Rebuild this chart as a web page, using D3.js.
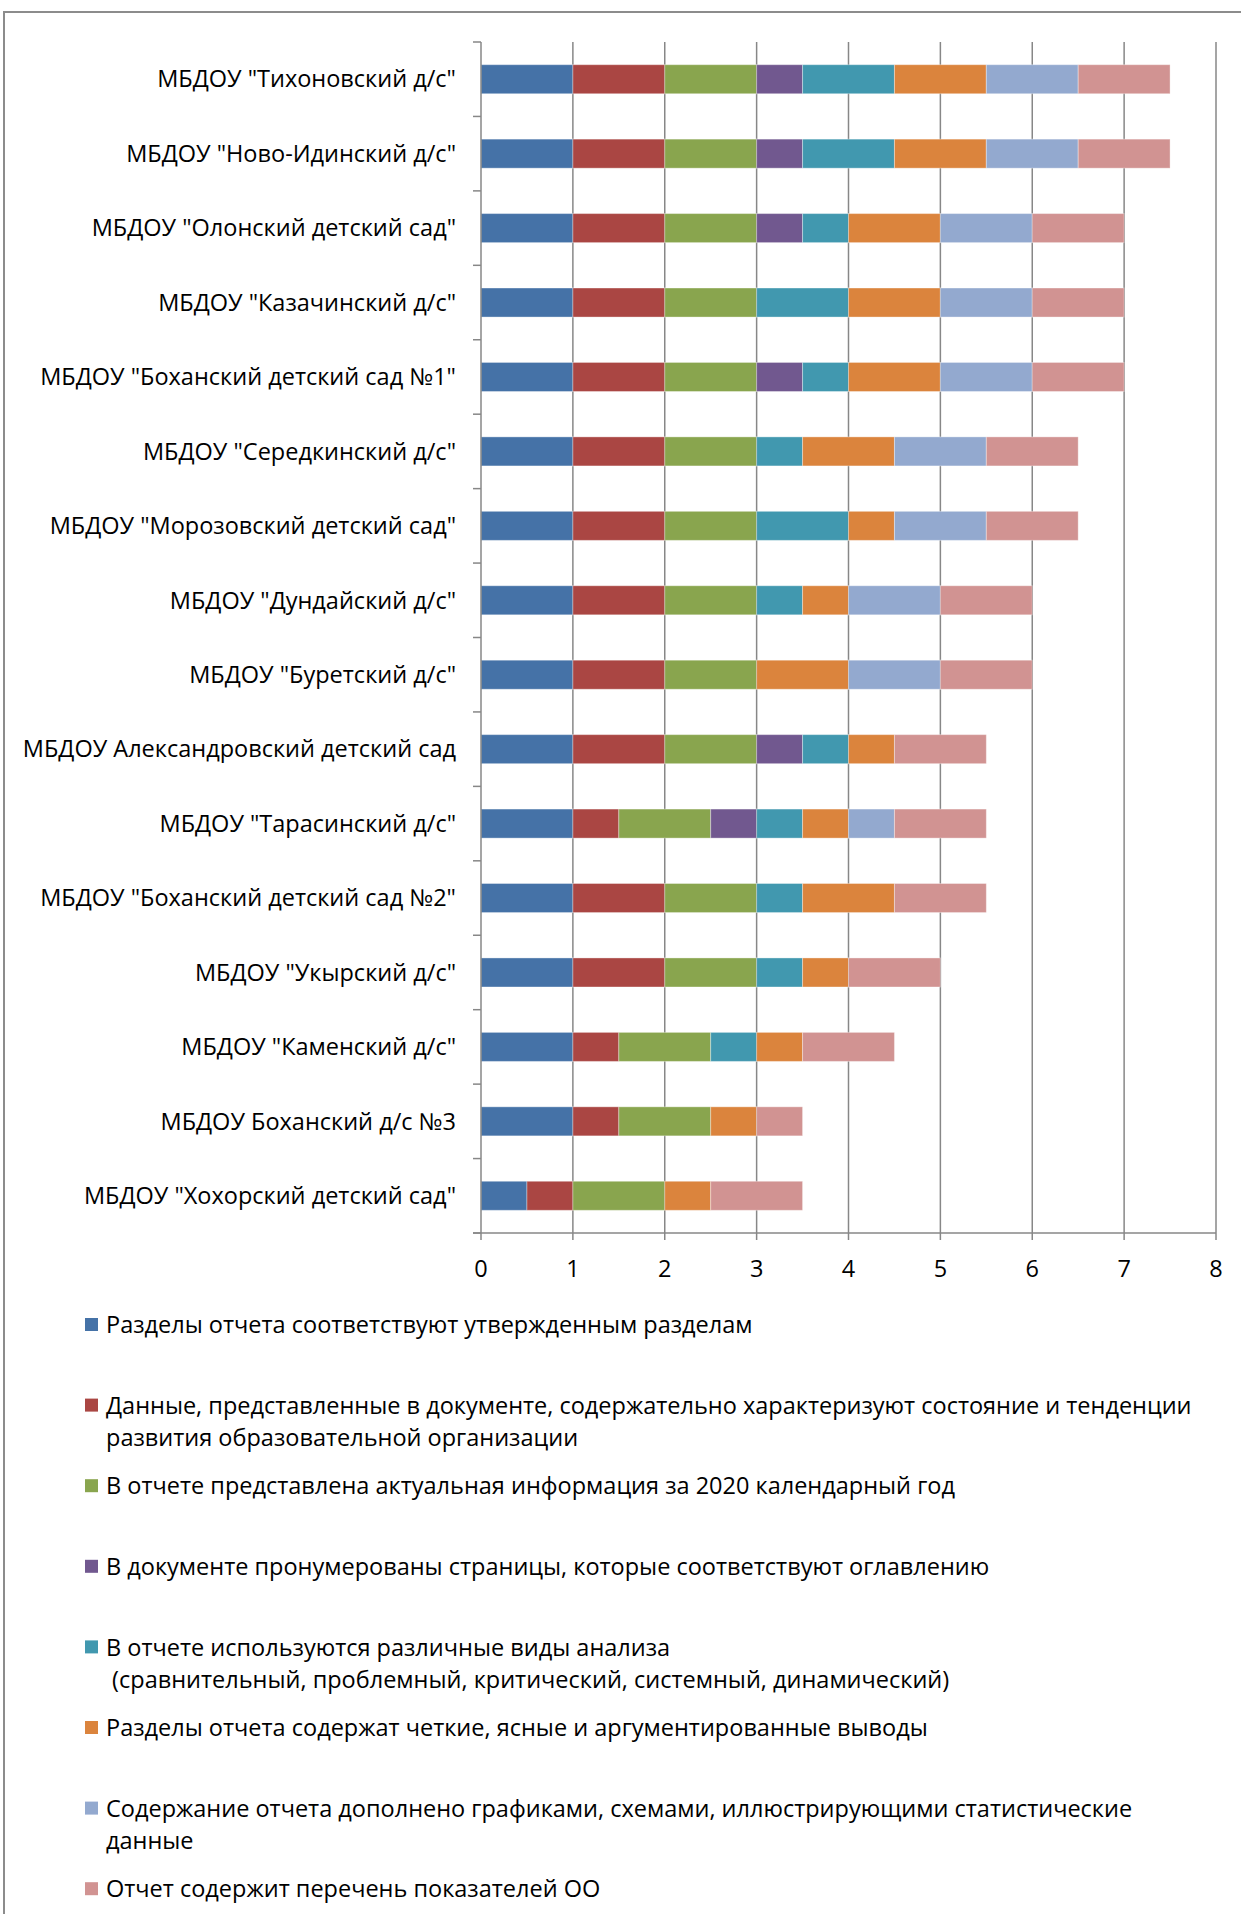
<!DOCTYPE html>
<html>
<head>
<meta charset="utf-8">
<script src="https://cdn.jsdelivr.net/npm/d3@7/dist/d3.min.js"></script>
<style>
  body { margin: 0; background: #fff; }
  svg text { font-family: "Open Sans", sans-serif; fill: #000; white-space: pre; }
</style>
</head>
<body>
<svg id="chart" width="1241" height="1914"></svg>
<script>
const schools = [
  'МБДОУ "Тихоновский д/с"',
  'МБДОУ "Ново-Идинский д/с"',
  'МБДОУ "Олонский детский сад"',
  'МБДОУ "Казачинский д/с"',
  'МБДОУ "Боханский детский сад №1"',
  'МБДОУ "Середкинский д/с"',
  'МБДОУ "Морозовский детский сад"',
  'МБДОУ "Дундайский д/с"',
  'МБДОУ "Буретский д/с"',
  'МБДОУ Александровский детский сад',
  'МБДОУ "Тарасинский д/с"',
  'МБДОУ "Боханский детский сад №2"',
  'МБДОУ "Укырский д/с"',
  'МБДОУ "Каменский д/с"',
  'МБДОУ Боханский д/с №3',
  'МБДОУ "Хохорский детский сад"'
];

// one array per criterion, same order as schools
const sections   = [1, 1, 1, 1, 1, 1, 1, 1, 1, 1, 1, 1, 1, 1, 1, 0.5];
const dataQual   = [1, 1, 1, 1, 1, 1, 1, 1, 1, 1, 0.5, 1, 1, 0.5, 0.5, 0.5];
const actual     = [1, 1, 1, 1, 1, 1, 1, 1, 1, 1, 1, 1, 1, 1, 1, 1];
const pages      = [0.5, 0.5, 0.5, 0, 0.5, 0, 0, 0, 0, 0.5, 0.5, 0, 0, 0, 0, 0];
const analysis   = [1, 1, 0.5, 1, 0.5, 0.5, 1, 0.5, 0, 0.5, 0.5, 0.5, 0.5, 0.5, 0, 0];
const conclusions= [1, 1, 1, 1, 1, 1, 0.5, 0.5, 1, 0.5, 0.5, 1, 0.5, 0.5, 0.5, 0.5];
const graphics   = [1, 1, 1, 1, 1, 1, 1, 1, 1, 0, 0.5, 0, 0, 0, 0, 0];
const indicators = [1, 1, 1, 1, 1, 1, 1, 1, 1, 1, 1, 1, 1, 1, 0.5, 1];

const seriesValues = [sections, dataQual, actual, pages, analysis, conclusions, graphics, indicators];

const seriesNames = [
  ["Разделы отчета соответствуют утвержденным разделам"],
  ["Данные, представленные в документе, содержательно характеризуют состояние и тенденции", "развития образовательной организации"],
  ["В отчете представлена актуальная информация за 2020 календарный год"],
  ["В документе пронумерованы страницы, которые соответствуют оглавлению"],
  ["В отчете используются различные виды анализа", " (сравнительный, проблемный, критический, системный, динамический)"],
  ["Разделы отчета содержат четкие, ясные и аргументированные выводы"],
  ["Содержание отчета дополнено графиками, схемами, иллюстрирующими статистические", "данные"],
  ["Отчет содержит перечень показателей ОО"]
];

const colors = ["#4572A7", "#AA4643", "#89A54E", "#71588F", "#4198AF", "#DB843D", "#93A9CF", "#D19392"];
const xTicks = [0, 1, 2, 3, 4, 5, 6, 7, 8];

const svg = d3.select("#chart");
const fontSize = 23.5;

// outer frame
svg.append("rect")
  .attr("x", 4).attr("y", 12)
  .attr("width", 1300).attr("height", 2000)
  .attr("fill", "none").attr("stroke", "#8c8c8c").attr("stroke-width", 2);

const plotLeft = 481, plotRight = 1216, plotTop = 42, plotBottom = 1233;

const x = d3.scaleLinear().domain([0, 8]).range([plotLeft, plotRight]);
const y = d3.scaleBand().domain(schools).range([plotTop, plotBottom]).paddingInner(0.61).paddingOuter(0.305);
const yOuter = d3.scaleBand().domain(schools).range([plotTop, plotBottom]);

// vertical gridlines
svg.append("g")
  .selectAll("line")
  .data(xTicks.slice(1))
  .join("line")
  .attr("x1", d => x(d)).attr("x2", d => x(d))
  .attr("y1", plotTop).attr("y2", plotBottom)
  .attr("stroke", "#878787").attr("stroke-width", 1.5);

// stacked bars
const rows = schools.map((s, i) => {
  const row = { school: s };
  seriesValues.forEach((arr, k) => { row["s" + k] = arr[i]; });
  return row;
});
const stack = d3.stack().keys(seriesValues.map((_, k) => "s" + k));
const layers = stack(rows);

svg.append("g")
  .selectAll("g")
  .data(layers)
  .join("g")
  .attr("fill", (d, k) => colors[k])
  .selectAll("rect")
  .data(d => d.filter(p => p[1] - p[0] > 0))
  .join("rect")
  .attr("x", d => x(d[0]))
  .attr("width", d => x(d[1]) - x(d[0]))
  .attr("y", d => y(d.data.school))
  .attr("height", y.bandwidth())
  .attr("stroke", "#ffffff")
  .attr("stroke-opacity", 0.35)
  .attr("stroke-width", 1);

// category axis (left)
const axisColor = "#878787";
svg.append("line")
  .attr("x1", plotLeft).attr("x2", plotLeft)
  .attr("y1", plotTop).attr("y2", plotBottom)
  .attr("stroke", axisColor).attr("stroke-width", 1.5);

const catTicks = schools.map(s => yOuter(s)).concat([plotBottom]);
svg.append("g")
  .selectAll("line")
  .data(catTicks)
  .join("line")
  .attr("x1", plotLeft - 8).attr("x2", plotLeft)
  .attr("y1", d => d).attr("y2", d => d)
  .attr("stroke", axisColor).attr("stroke-width", 1.5);

svg.append("g")
  .selectAll("text")
  .data(schools)
  .join("text")
  .attr("x", 456)
  .attr("y", d => yOuter(d) + yOuter.bandwidth() / 2)
  .attr("dy", "0.35em")
  .attr("text-anchor", "end")
  .attr("font-size", fontSize)
  .text(d => d);

// value axis (bottom)
svg.append("line")
  .attr("x1", plotLeft - 8).attr("x2", plotRight)
  .attr("y1", plotBottom).attr("y2", plotBottom)
  .attr("stroke", axisColor).attr("stroke-width", 1.5);

svg.append("g")
  .selectAll("line")
  .data(xTicks)
  .join("line")
  .attr("x1", d => x(d)).attr("x2", d => x(d))
  .attr("y1", plotBottom).attr("y2", plotBottom + 7)
  .attr("stroke", axisColor).attr("stroke-width", 1.5);

svg.append("g")
  .selectAll("text")
  .data(xTicks)
  .join("text")
  .attr("x", d => x(d))
  .attr("y", 1269)
  .attr("dy", "0.35em")
  .attr("text-anchor", "middle")
  .attr("font-size", fontSize)
  .text(d => d);

// legend
const legendTop = 1325, legendStep = 80.6, lineH = 32;
const legend = svg.append("g")
  .selectAll("g")
  .data(seriesNames)
  .join("g")
  .attr("transform", (d, i) => `translate(85,${legendTop + i * legendStep})`);

legend.append("rect")
  .attr("x", 0).attr("y", -7)
  .attr("width", 13).attr("height", 13)
  .attr("fill", (d, i) => colors[i]);

legend.append("text")
  .attr("font-size", fontSize)
  .selectAll("tspan")
  .data(d => d)
  .join("tspan")
  .attr("x", 21)
  .attr("y", (d, j) => j * lineH)
  .attr("dy", "0.35em")
  .text(d => d);
</script>
</body>
</html>
